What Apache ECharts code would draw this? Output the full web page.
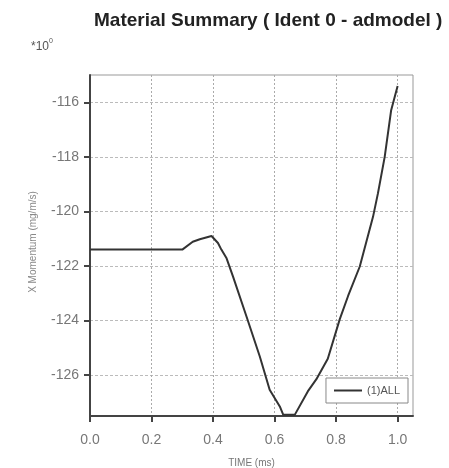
<!DOCTYPE html>
<html>
<head>
<meta charset="utf-8">
<script src="https://cdn.jsdelivr.net/npm/echarts@6/dist/echarts.min.js"></script>
<style>
  html, body { margin: 0; padding: 0; background: #fff; }
  #g-echart { width: 449px; height: 468px; }
</style>
</head>
<body>
<div id="g-echart"></div>
<script>
// 数据
var timeMs = [0, 0.30, 0.334, 0.357, 0.395, 0.416, 0.427, 0.444, 0.465, 0.509, 0.552, 0.584, 0.617, 0.628, 0.666, 0.708, 0.736, 0.773, 0.812, 0.839, 0.877, 0.92, 0.936, 0.958, 0.979, 1.0];
var momentum = [-121.4, -121.4, -121.11, -121.02, -120.9, -121.16, -121.4, -121.72, -122.39, -123.86, -125.32, -126.54, -127.15, -127.45, -127.45, -126.6, -126.15, -125.4, -123.95, -123.1, -122.02, -120.2, -119.34, -118.0, -116.29, -115.4];
var xTicks = [0, 0.2, 0.4, 0.6, 0.8, 1.0];
var yTicks = [-126, -124, -122, -120, -118, -116];
var seriesName = '(1)ALL';

var mychart = echarts.init(document.getElementById('g-echart'));

var points = timeMs.map(function (t, i) {
    return [t, momentum[i]];
});

var font = 'Liberation Sans, Arial, sans-serif';

var option = {
    animation: false,
    backgroundColor: '#fff',
    title: {
        text: 'Material Summary ( Ident 0 - admodel )',
        left: 89,
        top: 6,
        textStyle: {
            fontFamily: font,
            fontSize: 19,
            fontWeight: 'bold',
            color: '#222'
        }
    },
    grid: {
        left: 90,
        right: 36,
        top: 75,
        bottom: 52,
        outerBoundsMode: 'none',
        show: true,
        borderColor: '#999',
        borderWidth: 1
    },
    legend: {
        data: [{name: seriesName, icon: 'rect'}],
        right: 41,
        bottom: 65,
        orient: 'horizontal',
        backgroundColor: '#fff',
        borderColor: '#888',
        borderWidth: 1,
        borderRadius: 0,
        padding: [7, 8, 7, 8],
        itemWidth: 28,
        itemHeight: 2,
        itemGap: 6,
        textStyle: {
            fontFamily: font,
            fontSize: 11,
            color: '#555'
        }
    },
    xAxis: {
        type: 'value',
        min: 0,
        max: 1.05,
        name: 'TIME (ms)',
        nameLocation: 'middle',
        nameGap: 42,
        nameTextStyle: {fontFamily: font, fontSize: 10, color: '#777'},
        axisLine: {onZero: false, lineStyle: {color: '#444', width: 2}},
        axisTick: {show: true, length: 6, customValues: xTicks, lineStyle: {color: '#444', width: 2}},
        axisLabel: {
            customValues: xTicks,
            margin: 17,
            fontFamily: font,
            fontSize: 14,
            color: '#777',
            formatter: function (v) { return v.toFixed(1); }
        },
        splitLine: {show: true, lineStyle: {color: '#aaa', type: [2, 2], width: 1}}
    },
    yAxis: {
        type: 'value',
        min: -127.5,
        max: -115,
        axisLine: {show: true, onZero: false, lineStyle: {color: '#444', width: 2}},
        axisTick: {show: true, length: 6, customValues: yTicks, lineStyle: {color: '#444', width: 2}},
        axisLabel: {
            customValues: yTicks,
            margin: 11,
            fontFamily: font,
            fontSize: 14,
            color: '#777'
        },
        splitLine: {show: true, lineStyle: {color: '#bbb', type: [3, 2], width: 1}}
    },
    graphic: [
        {
            type: 'text',
            left: 31,
            top: 38,
            style: {
                text: '{a|*10}{b|0}',
                rich: {
                    a: {fontFamily: font, fontSize: 12, fill: '#555', verticalAlign: 'bottom'},
                    b: {fontFamily: font, fontSize: 7, fill: '#555', verticalAlign: 'top', padding: [0, 0, 8, 0]}
                }
            }
        },
        {
            type: 'text',
            x: 33,
            y: 242,
            rotation: Math.PI / 2,
            style: {
                text: 'X Momentum (mg/m/s)',
                fontFamily: font,
                fontSize: 10,
                fill: '#888',
                align: 'center',
                verticalAlign: 'middle'
            }
        }
    ],
    series: [
        {
            name: seriesName,
            type: 'line',
            symbol: 'none',
            clip: true,
            lineStyle: {color: '#333', width: 2},
            itemStyle: {color: '#333'},
            data: points
        }
    ]
};

mychart.setOption(option);
</script>
</body>
</html>
